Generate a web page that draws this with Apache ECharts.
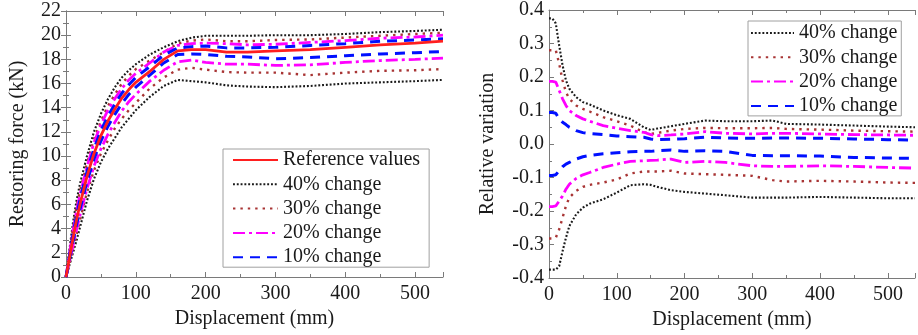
<!DOCTYPE html>
<html>
<head>
<meta charset="utf-8">
<script src="https://cdn.jsdelivr.net/npm/echarts@6/dist/echarts.min.js"></script>
<style>
html,body{margin:0;padding:0;background:#fff;}
#chart{width:918px;height:335px;}
</style>
</head>
<body>
<div id="chart"></div>
<script>
// ---------- Left chart: restoring force (kN) vs displacement (mm) ----------
const forceX   = [0,5,10,15,20,30,40,50,60,70,80,90,100,120,140,160,180,200,230,260,300,350,400,450,500,540];
const refForce = [0,1.6,3.2,4.7,6.0,8.3,10.2,11.7,12.9,13.9,14.8,15.5,16.1,17.0,18.0,18.7,18.8,18.8,18.6,18.6,18.7,18.8,19.0,19.2,19.35,19.5];
const up40F = [0,2.3,4.5,6.3,7.7,10.0,12.0,13.5,14.7,15.7,16.5,17.1,17.6,18.4,19.0,19.5,19.8,19.95,19.95,19.95,20.0,20.0,20.1,20.25,20.35,20.45];
const lo40F = [0,1.0,2.0,3.0,4.1,6.3,8.1,9.5,10.6,11.5,12.4,13.1,13.8,14.9,15.8,16.3,16.2,16.1,15.85,15.75,15.7,15.8,16.0,16.1,16.2,16.3];
const up30F = [0,2.05,4.1,5.8,7.1,9.4,11.4,12.9,14.15,15.1,16.0,16.65,17.2,17.9,18.6,19.3,19.55,19.65,19.5,19.5,19.6,19.65,19.8,19.95,20.1,20.2];
const lo30F = [0,1.15,2.3,3.5,4.7,7.0,8.8,10.2,11.3,12.3,13.1,13.8,14.4,15.6,16.5,17.15,17.3,17.15,16.95,16.9,16.9,16.7,16.9,17.05,17.1,17.2];
const up20F = [0,1.9,3.8,5.45,6.8,9.1,11.1,12.6,13.8,14.75,15.6,16.3,16.85,17.7,18.6,19.15,19.3,19.35,19.3,19.2,19.25,19.4,19.55,19.75,19.85,20.0];
const lo20F = [0,1.3,2.6,3.9,5.1,7.3,9.15,10.6,11.8,12.8,13.75,14.5,15.1,16.2,17.1,17.8,17.95,17.75,17.6,17.6,17.5,17.55,17.75,17.9,18.0,18.1];
const up10F = [0,1.75,3.5,5.05,6.4,8.7,10.6,12.1,13.3,14.3,15.2,15.9,16.5,17.4,18.35,18.95,19.05,19.1,18.95,18.95,19.0,19.15,19.3,19.5,19.6,19.7];
const lo10F = [0,1.45,2.9,4.3,5.6,7.85,9.75,11.25,12.45,13.45,14.35,15.1,15.7,16.7,17.7,18.4,18.45,18.4,18.25,18.2,18.05,18.15,18.3,18.45,18.55,18.65];

// ---------- Right chart: relative variation vs displacement (mm) ----------
const relX  = [0,5,10,15,20,25,30,40,50,60,80,100,120,140,150,160,180,200,230,260,300,330,350,400,450,500,540];
const up40R = [0.375,0.375,0.36,0.295,0.235,0.19,0.165,0.14,0.125,0.118,0.1,0.086,0.075,0.05,0.042,0.046,0.053,0.06,0.07,0.068,0.068,0.07,0.06,0.058,0.055,0.052,0.05];
const up30R = [0.28,0.28,0.28,0.24,0.19,0.155,0.135,0.115,0.105,0.097,0.08,0.068,0.055,0.035,0.03,0.033,0.04,0.045,0.048,0.047,0.047,0.048,0.045,0.043,0.04,0.038,0.037];
const up20R = [0.187,0.187,0.185,0.16,0.135,0.115,0.1,0.085,0.075,0.068,0.055,0.047,0.04,0.035,0.028,0.025,0.027,0.03,0.037,0.032,0.03,0.032,0.032,0.03,0.028,0.027,0.026];
const up10R = [0.094,0.094,0.092,0.075,0.065,0.058,0.05,0.04,0.034,0.031,0.028,0.024,0.022,0.02,0.015,0.013,0.014,0.016,0.02,0.018,0.017,0.018,0.018,0.017,0.015,0.013,0.012];
const lo10R = [-0.094,-0.094,-0.092,-0.08,-0.068,-0.06,-0.055,-0.045,-0.038,-0.034,-0.029,-0.026,-0.023,-0.022,-0.022,-0.02,-0.018,-0.022,-0.02,-0.022,-0.034,-0.035,-0.035,-0.036,-0.04,-0.042,-0.043];
const lo20R = [-0.187,-0.187,-0.185,-0.17,-0.155,-0.135,-0.12,-0.103,-0.092,-0.085,-0.07,-0.06,-0.052,-0.05,-0.049,-0.048,-0.045,-0.055,-0.052,-0.055,-0.065,-0.067,-0.067,-0.065,-0.067,-0.07,-0.072];
const lo30R = [-0.282,-0.282,-0.28,-0.255,-0.22,-0.185,-0.16,-0.14,-0.128,-0.122,-0.115,-0.106,-0.088,-0.082,-0.082,-0.082,-0.08,-0.088,-0.09,-0.092,-0.095,-0.108,-0.112,-0.11,-0.112,-0.115,-0.116];
const lo40R = [-0.375,-0.375,-0.375,-0.365,-0.32,-0.28,-0.245,-0.21,-0.19,-0.178,-0.165,-0.145,-0.123,-0.12,-0.122,-0.128,-0.138,-0.143,-0.148,-0.153,-0.16,-0.16,-0.16,-0.158,-0.16,-0.162,-0.162];

const forceTicks = [0,2,4,6,8,10,12,14,16,18,20,22];
const relTicks = [-0.4,-0.3,-0.2,-0.1,0.0,0.1,0.2,0.3,0.4];
const xTicks = [0,100,200,300,400,500];

const names = {ref:'Reference values', c40:'40% change', c30:'30% change', c20:'20% change', c10:'10% change'};

const FONT = 'Liberation Serif';
const TXT = '#1a1a1a';
const AX = '#7a7a7a';

const styles = {
  ref: {color:'#ff1f1f', width:2.8, type:'solid'},
  c40: {color:'#1a1a1a', width:2.1, type:[1.9,1.9]},
  c30: {color:'#a83434', width:2.4, type:[2.4,5]},
  c20: {color:'#ff00ff', width:2.8, type:[12,4,3,4]},
  c10: {color:'#0010ff', width:3, type:[10,7]}
};

function zip(xs, ys){ return xs.map((x,i)=>[x, ys[i]]); }

function line(key, xs, ys, xi, yi, z){
  const s = styles[key];
  return {
    type:'line', name:names[key], data:zip(xs,ys), xAxisIndex:xi, yAxisIndex:yi,
    symbol:'none', showSymbol:false, smooth:false, animation:false, z:z||2,
    lineStyle:{color:s.color, width:s.width, type:s.type, cap:'butt'},
    itemStyle:{color:s.color}
  };
}

function xAxisDef(grid, pos, show){
  return {
    type:'value', gridIndex:grid, position:pos, min:0, max:540, interval:100,
    axisLine:{show:true, onZero:false, lineStyle:{color:AX, width:1}},
    axisTick:{show:true, inside:true, length:5, lineStyle:{color:AX}},
    minorTick:{show:true, splitNumber:2, length:3, lineStyle:{color:AX}},
    splitLine:{show:false}, minorSplitLine:{show:false},
    axisLabel:{show:show, color:TXT, fontFamily:FONT, fontSize:20, margin:7,
      formatter:v=> xTicks.indexOf(v)>=0 ? String(v) : ''},
    name: show ? 'Displacement (mm)' : '', nameLocation:'middle', nameGap:31,
    nameTextStyle:{color:TXT, fontFamily:FONT, fontSize:20}
  };
}

function legendDef(left, top, data, itemWidth, padding){
  return {show:true, orient:'vertical', left:left, top:top, data:data,
    itemWidth:itemWidth, itemHeight:20, itemGap:4.3, padding:padding,
    borderColor:'#a0a0a0', borderWidth:1, backgroundColor:'#fff',
    itemStyle:{opacity:0, borderWidth:0},
    textStyle:{color:TXT, fontFamily:FONT, fontSize:20, lineHeight:20},
    selectedMode:false};
}

const option = {
  backgroundColor:'#ffffff',
  animation:false,
  grid:[
    {left:66, top:11, right:475, bottom:58, containLabel:false},
    {left:549, top:10, right:-7, bottom:57, containLabel:false}
  ],
  xAxis:[
    xAxisDef(0,'bottom',true),
    xAxisDef(0,'top',false),
    xAxisDef(1,'bottom',true),
    xAxisDef(1,'top',false)
  ],
  yAxis:[
    {type:'value', gridIndex:0, position:'left', min:0, max:22, interval:2,
     axisLine:{show:true, lineStyle:{color:AX}},
     axisTick:{show:true, inside:true, length:5, lineStyle:{color:AX}},
     minorTick:{show:true, splitNumber:2, length:3, lineStyle:{color:AX}},
     splitLine:{show:false},
     axisLabel:{color:TXT, fontFamily:FONT, fontSize:20, margin:5,
       formatter:v=> forceTicks.indexOf(v)>=0 ? String(v) : ''},
     name:'Restoring force (kN)', nameLocation:'middle', nameGap:38, nameRotate:90,
     nameTextStyle:{color:TXT, fontFamily:FONT, fontSize:20}},
    {type:'value', gridIndex:0, position:'right', min:0, max:22, interval:2,
     axisLine:{show:true, lineStyle:{color:AX}},
     axisTick:{show:true, inside:true, length:5, lineStyle:{color:AX}},
     minorTick:{show:true, splitNumber:2, length:3, lineStyle:{color:AX}},
     splitLine:{show:false}, axisLabel:{show:false}},
    {type:'value', gridIndex:1, position:'left', min:-0.4, max:0.4, interval:0.1,
     axisLine:{show:true, lineStyle:{color:AX}},
     axisTick:{show:true, inside:true, length:5, lineStyle:{color:AX}},
     minorTick:{show:true, splitNumber:2, length:3, lineStyle:{color:AX}},
     splitLine:{show:false},
     axisLabel:{color:TXT, fontFamily:FONT, fontSize:20, margin:5,
       formatter:v=> v.toFixed(1)},
     name:'Relative variation', nameLocation:'middle', nameGap:51, nameRotate:90,
     nameTextStyle:{color:TXT, fontFamily:FONT, fontSize:20}}
  ],
  legend:[
    legendDef(223, 149, [names.ref,names.c40,names.c30,names.c20,names.c10], 45, [1,9,0,9]),
    legendDef(748, 21, [names.c40,names.c30,names.c20,names.c10], 43, [2,4,0,2])
  ],
  series:[
    line('c40', forceX, up40F, 0, 0), line('c40', forceX, lo40F, 0, 0),
    line('c30', forceX, up30F, 0, 0), line('c30', forceX, lo30F, 0, 0),
    line('c20', forceX, up20F, 0, 0), line('c20', forceX, lo20F, 0, 0),
    line('c10', forceX, up10F, 0, 0), line('c10', forceX, lo10F, 0, 0),
    line('ref', forceX, refForce, 0, 0, 5),
    line('c40', relX, up40R, 2, 2), line('c40', relX, lo40R, 2, 2),
    line('c30', relX, up30R, 2, 2), line('c30', relX, lo30R, 2, 2),
    line('c20', relX, up20R, 2, 2), line('c20', relX, lo20R, 2, 2),
    line('c10', relX, up10R, 2, 2), line('c10', relX, lo10R, 2, 2)
  ]
};

const chart = echarts.init(document.getElementById('chart'), null, {renderer:'canvas'});
chart.setOption(option);
</script>
</body>
</html>
